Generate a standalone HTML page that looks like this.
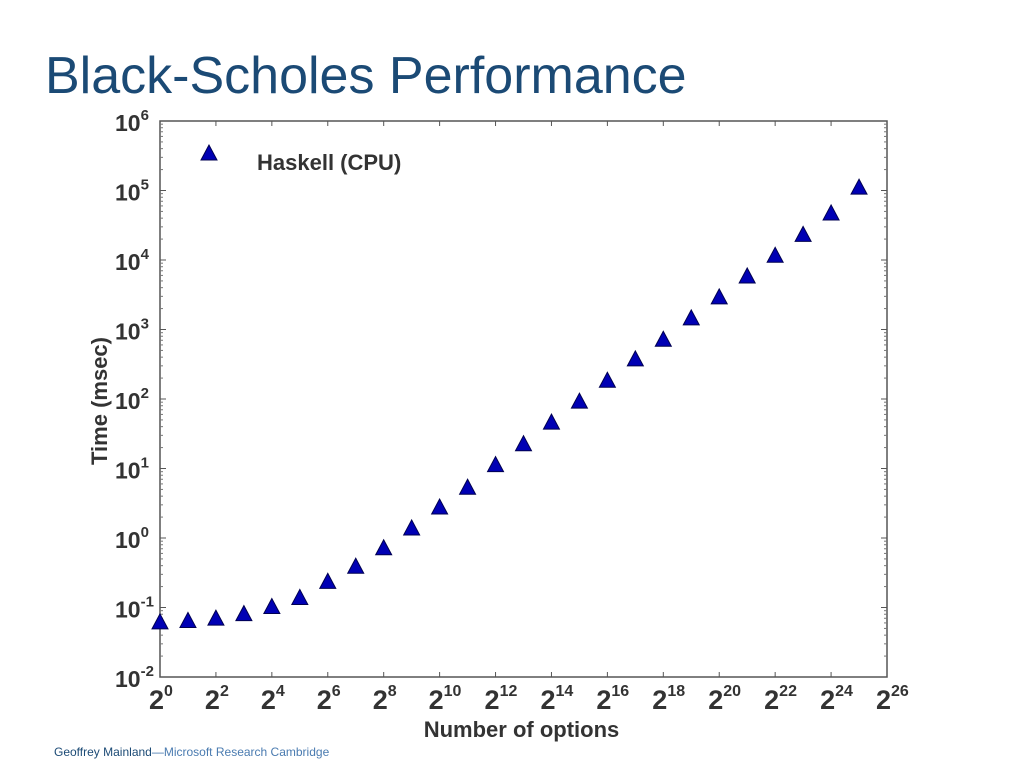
<!DOCTYPE html>
<html><head><meta charset="utf-8"><style>
body{margin:0;background:#fff;width:1024px;height:768px;overflow:hidden;font-family:"Liberation Sans",sans-serif}
</style></head><body>
<div style="position:absolute;left:45px;top:46px;font-size:52px;color:#1b4a75;letter-spacing:0px">Black-Scholes Performance</div>
<div style="position:absolute;left:54px;top:745px;font-size:12px;color:#1b4a75">Geoffrey Mainland<span style="color:#4a7bb0">—Microsoft Research Cambridge</span></div>
<svg id="chart" width="1024" height="768" style="position:absolute;left:0;top:0"></svg>
<script>
const exponents=[0,1,2,3,4,5,6,7,8,9,10,11,12,13,14,15,16,17,18,19,20,21,22,23,24,25];
const times=[0.060,0.063,0.068,0.079,0.10,0.135,0.23,0.38,0.70,1.35,2.7,5.2,11,22,45,90,180,365,700,1420,2850,5700,11300,22600,46000,108000];
const xTicks=[0,2,4,6,8,10,12,14,16,18,20,22,24,26];
const yTicks=[-2,-1,0,1,2,3,4,5,6];
const L=160,R=887,T=121,B=677;
const NS="http://www.w3.org/2000/svg";
const svg=document.getElementById('chart');
const xs=e=>L+(e-0)/26*(R-L);
const ys=lg=>B-(lg+2)/8*(B-T);
function mk(t,a,p){const el=document.createElementNS(NS,t);for(const k in a)el.setAttribute(k,a[k]);(p||svg).appendChild(el);return el;}
const frame=mk('rect',{x:L,y:T,width:R-L,height:B-T,fill:'none',stroke:'#555','stroke-width':1.5});


xTicks.forEach(e=>{
  const x=xs(e);
  mk('line',{x1:x,x2:x,y1:B,y2:B-5,stroke:'#555'});
  mk('line',{x1:x,x2:x,y1:T,y2:T+5,stroke:'#555'});
  const t=mk('text',{x:x-11,y:B+32,'font-size':27,fill:'#333','font-weight':'bold'});
  
  
  t.textContent='2';
  const s=mk('tspan',{dy:-13,'font-size':16},t);s.textContent=e;
});
yTicks.forEach(p=>{
  const y=ys(p);
  mk('line',{x1:L,x2:L+6,y1:y,y2:y,stroke:'#555'});
  mk('line',{x1:R,x2:R-6,y1:y,y2:y,stroke:'#555'});
  if(p<6){for(let m=2;m<10;m++){const yy=ys(p+Math.log10(m));
    mk('line',{x1:L,x2:L+3,y1:yy,y2:yy,stroke:'#777'});
    mk('line',{x1:R,x2:R-3,y1:yy,y2:yy,stroke:'#777'});}}
  const t=mk('text',{x:L-45,y:y+10,'font-size':23,fill:'#333','font-weight':'bold'});
  
  
  t.textContent='10';
  const s=mk('tspan',{dy:-11,'font-size':15},t);s.textContent=p;
});
const xt=mk('text',{x:(L+R)/2-2,y:737,'text-anchor':'middle','font-size':22,fill:'#333','font-weight':'bold'});


xt.textContent='Number of options';
const yt=mk('text',{x:0,y:0,'text-anchor':'middle','font-size':22,fill:'#333','font-weight':'bold',transform:'translate(107,'+((T+B)/2+2)+') rotate(-90)'});


yt.textContent='Time (msec)';
function tri(x,y){return (x)+','+(y-9)+' '+(x-8)+','+(y+6)+' '+(x+8)+','+(y+6);}
exponents.forEach((e,i)=>{
  const p=mk('polygon',{points:tri(xs(e),ys(Math.log10(times[i]))),fill:'#0000b4',stroke:'#000050','stroke-width':1});
  
  
});
const lm=mk('polygon',{points:tri(209,154),fill:'#0000b4',stroke:'#000050'});


const lt=mk('text',{x:257,y:170,'font-size':22,fill:'#333','font-weight':'bold'});


lt.textContent='Haskell (CPU)';
</script>
</body></html>
